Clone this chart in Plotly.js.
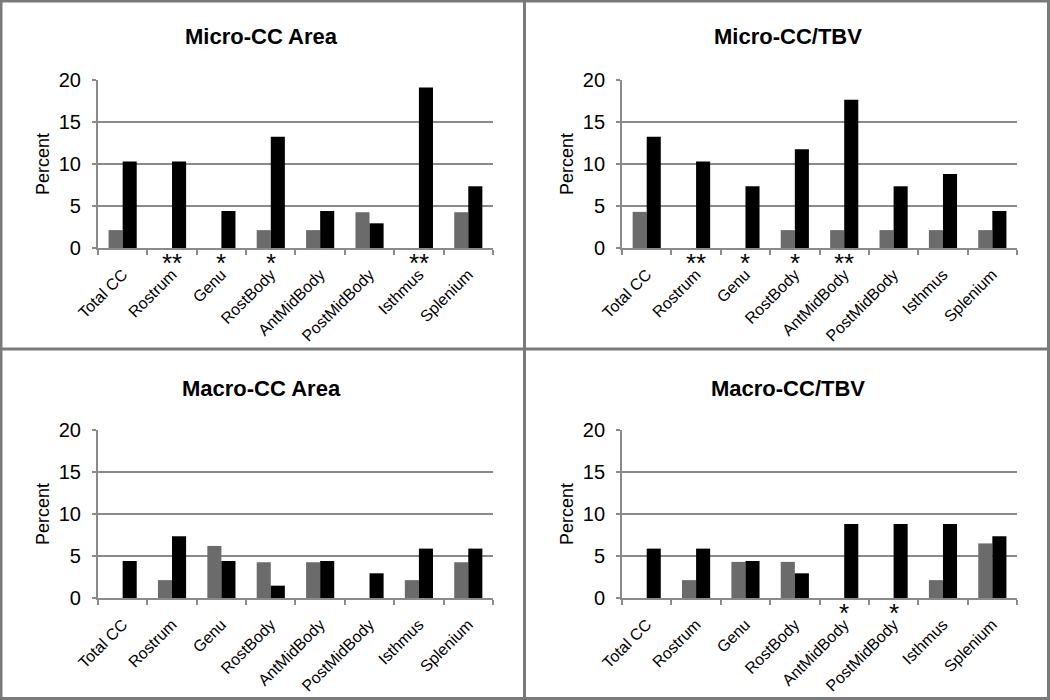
<!DOCTYPE html>
<html>
<head>
<meta charset="utf-8">
<script src="https://cdn.plot.ly/plotly-3.0.1.min.js"></script>
<style>html,body{margin:0;padding:0;background:#fff;}#chart{width:1050px;height:700px;}</style>
</head>
<body>
<div id="chart"></div>
<script>
const categories = ['Total CC','Rostrum','Genu','RostBody','AntMidBody','PostMidBody','Isthmus','Splenium'];
const panelTitles = ['Micro-CC Area','Micro-CC/TBV','Macro-CC Area','Macro-CC/TBV'];

const microAreaGray  = [2.13, 0, 0, 2.13, 2.13, 4.26, 0, 4.26];
const microAreaBlack = [10.29, 10.29, 4.41, 13.24, 4.41, 2.94, 19.12, 7.35];
const microTbvGray   = [4.3, 0, 0, 2.13, 2.13, 2.13, 2.13, 2.13];
const microTbvBlack  = [13.24, 10.29, 7.35, 11.76, 17.65, 7.35, 8.82, 4.41];
const macroAreaGray  = [0, 2.13, 6.2, 4.26, 4.26, 0, 2.13, 4.26];
const macroAreaBlack = [4.41, 7.35, 4.41, 1.47, 4.41, 2.94, 5.88, 5.88];
const macroTbvGray   = [0, 2.13, 4.3, 4.3, 0, 0, 2.13, 6.5];
const macroTbvBlack  = [5.88, 5.88, 4.41, 2.94, 8.82, 8.82, 8.82, 7.35];

const microAreaStars = ['', '**', '*', '*', '', '', '**', ''];
const microTbvStars  = ['', '**', '*', '*', '**', '', '', ''];
const macroAreaStars = ['', '', '', '', '', '', '', ''];
const macroTbvStars  = ['', '', '', '', '*', '*', '', ''];

const grays  = [microAreaGray, microTbvGray, macroAreaGray, macroTbvGray];
const blacks = [microAreaBlack, microTbvBlack, macroAreaBlack, macroTbvBlack];
const stars  = [microAreaStars, microTbvStars, macroAreaStars, macroTbvStars];

const FONT = 'Liberation Sans, Arial, Helvetica, sans-serif';
const GRID = '#8a8a8a';
const xDomains = [[0.0933, 0.4695], [0.5924, 0.9686], [0.0933, 0.4695], [0.5924, 0.9686]];
const yDomains = [[0.6457, 0.8857], [0.6457, 0.8857], [0.1457, 0.3857], [0.1457, 0.3857]];
const titlePos = [[0.249, 1 - 37/700], [0.75, 1 - 37/700], [0.249, 1 - 388/700], [0.75, 1 - 388/700]];

const data = [];
const layout = {
  width: 1050, height: 700,
  margin: {l: 0, r: 0, t: 0, b: 0},
  paper_bgcolor: '#fff', plot_bgcolor: '#fff',
  showlegend: false,
  barmode: 'group', bargap: 0.43, bargroupgap: 0,
  hovermode: false,
  font: {family: FONT, color: '#000'},
  annotations: [],
  shapes: [
    {type: 'rect', xref: 'paper', yref: 'paper', x0: 1/1050, x1: 1 - 1.5/1050, y0: 1.5/700, y1: 1 - 1/700, line: {color: '#7a7a7a', width: 3}},
    {type: 'line', xref: 'paper', yref: 'paper', x0: 524.5/1050, x1: 524.5/1050, y0: 0, y1: 1, line: {color: '#7a7a7a', width: 3}},
    {type: 'line', xref: 'paper', yref: 'paper', x0: 0, x1: 1, y0: 1 - 349/700, y1: 1 - 349/700, line: {color: '#7a7a7a', width: 3}}
  ]
};

for (let p = 0; p < 4; p++) {
  const sfx = p === 0 ? '' : String(p + 1);
  const xa = 'x' + sfx, ya = 'y' + sfx;
  data.push({type: 'bar', x: categories, y: grays[p], xaxis: xa, yaxis: ya,
             marker: {color: '#6b6b6b', line: {width: 0}}});
  data.push({type: 'bar', x: categories, y: blacks[p], xaxis: xa, yaxis: ya,
             marker: {color: '#000000', line: {width: 0}}});
  layout['xaxis' + sfx] = {
    domain: xDomains[p], anchor: ya, type: 'category',
    range: [-0.5, categories.length - 0.5],
    tickson: 'boundaries', ticks: 'outside', ticklen: 5, tickwidth: 2, tickcolor: GRID,
    showline: true, linecolor: GRID, linewidth: 2, showgrid: false, zeroline: false,
    tickangle: -45, ticklabelstandoff: 9,
    tickfont: {family: FONT, size: 16, color: '#000'}
  };
  layout['yaxis' + sfx] = {
    domain: yDomains[p], anchor: xa, range: [0, 20], dtick: 5,
    showgrid: true, gridcolor: GRID, gridwidth: 2,
    showline: true, linecolor: GRID, linewidth: 2, zeroline: false,
    ticks: 'outside', ticklen: 4, tickwidth: 2, tickcolor: GRID, ticklabelstandoff: 7,
    tickfont: {family: FONT, size: 20, color: '#000'},
    title: {text: 'Percent', font: {family: FONT, size: 18, color: '#000'}, standoff: 4}
  };
  layout.annotations.push({
    xref: 'paper', yref: 'paper', x: titlePos[p][0], y: titlePos[p][1],
    xanchor: 'center', yanchor: 'middle', showarrow: false,
    text: '<b>' + panelTitles[p] + '</b>', font: {family: FONT, size: 22, color: '#000'}
  });
  stars[p].forEach(function (s, i) {
    if (!s) return;
    layout.annotations.push({
      xref: xa, yref: ya, x: categories[i], y: 0,
      xanchor: 'center', yanchor: 'top', yshift: 2, showarrow: false,
      text: s, font: {family: FONT, size: 26, color: '#000'}
    });
  });
}

Plotly.newPlot('chart', data, layout, {staticPlot: true, displayModeBar: false});
</script>
</body>
</html>
